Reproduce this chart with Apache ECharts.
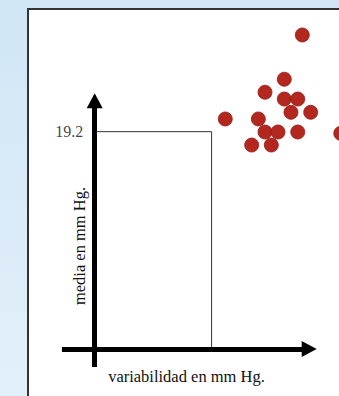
<!DOCTYPE html>
<html>
<head>
<meta charset="utf-8">
<script src="https://cdn.jsdelivr.net/npm/echarts@6/dist/echarts.min.js"></script>
<style>html,body{margin:0;padding:0;}#c{width:339px;height:396px;}</style>
</head>
<body>
<div id="c"></div>
<script>
// ---- data ----
const dotX = [17.76, 16.22, 14.57, 16.22, 17.37, 16.79, 18.48, 11.17, 14.00, 14.57, 15.68, 17.37, 21.05, 13.43, 15.11];
const dotY = [27.74, 23.83, 22.68, 22.08, 22.08, 20.91, 20.91, 20.32, 20.32, 19.17, 19.17, 19.17, 19.05, 18.02, 18.02];
const meanValue = 19.2;
const variabilityValue = 10;
const meanLabel = '19.2';
const xTitle = 'variabilidad en mm Hg.';
const yTitle = 'media en mm Hg.';

const chart = echarts.init(document.getElementById('c'), null, {renderer: 'svg'});
const serif = '"Liberation Serif", "DejaVu Serif", serif';

const option = {
  animation: false,
  grid: {left: 0, right: 0, top: 0, bottom: 0},
  xAxis: {type: 'value', min: -8.1, max: 20.9, show: false},
  yAxis: {type: 'value', min: -4.15, max: 30.83, show: false},
  graphic: [
    {type: 'rect', z: -10, shape: {x: 0, y: 0, width: 339, height: 396},
     style: {fill: new echarts.graphic.LinearGradient(0, 0, 0, 1, [
       {offset: 0, color: '#d0e6f5'}, {offset: 1, color: '#e2f0fa'}])}},
    {type: 'rect', z: -9, shape: {x: 28, y: 9, width: 340, height: 400},
     style: {fill: '#ffffff', stroke: '#333333', lineWidth: 2}},
    {type: 'text', z: 10, x: 186.5, y: 376,
     style: {text: xTitle, font: '16.5px ' + serif, fill: '#111', align: 'center', verticalAlign: 'middle'}},
    {type: 'text', z: 10, x: 79, y: 246, rotation: Math.PI / 2,
     style: {text: yTitle, font: '16.5px ' + serif, fill: '#111', align: 'center', verticalAlign: 'middle'}}
  ],
  series: [
    {
      type: 'line',
      silent: true,
      symbol: 'none',
      z: 2,
      lineStyle: {color: '#333333', width: 1},
      data: [[0, meanValue], [variabilityValue, meanValue], [variabilityValue, 0]]
    },
    {
      type: 'scatter',
      silent: true,
      z: 3,
      symbolSize: 1,
      itemStyle: {color: 'rgba(0,0,0,0)'},
      label: {show: true, position: 'left', distance: 11, formatter: meanLabel,
              color: '#111111', textBorderWidth: 0, fontFamily: serif, fontSize: 16},
      data: [[0, meanValue]]
    },
    {
      type: 'line',
      silent: true,
      z: 4,
      data: [],
      markLine: {
        silent: true,
        animation: false,
        symbol: ['none', 'triangle'],
        symbolSize: [16, 15],
        label: {show: false},
        lineStyle: {color: '#000', width: 5, type: 'solid'},
        data: [
          [{coord: [-2.8, 0]}, {coord: [18.35, 0]}],
          [{coord: [0, -1.59]}, {coord: [0, 21.93]}]
        ]
      }
    },
    {
      type: 'scatter',
      clip: false,
      z: 5,
      symbolSize: 14,
      itemStyle: {color: '#b3271f', opacity: 1, borderColor: '#921c15', borderWidth: 0.8},
      data: dotX.map((x, i) => [x, dotY[i]])
    }
  ]
};
chart.setOption(option);
</script>
</body>
</html>
